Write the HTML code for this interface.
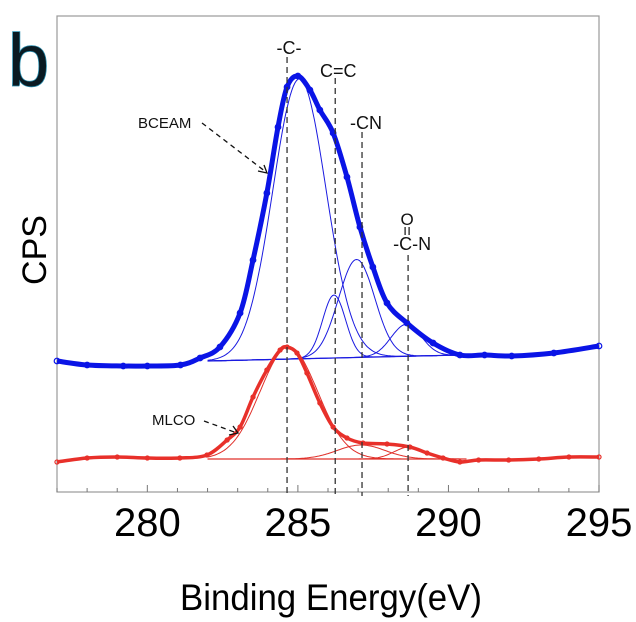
<!DOCTYPE html>
<html><head><meta charset="utf-8"><style>
html,body{margin:0;padding:0;background:#fff;}
svg{display:block;font-family:"Liberation Sans",Arial,sans-serif;}
</style></head><body>
<svg id="chart" width="636" height="622" viewBox="0 0 636 622" xmlns="http://www.w3.org/2000/svg">
<text x="8" y="86" font-size="74" fill="#0a1a22" style="paint-order:stroke" stroke="#2a8fb0" stroke-width="1.5">b</text>
<text transform="translate(46,250) rotate(-90)" text-anchor="middle" font-size="34" fill="#000">CPS</text>
<text x="180" y="610" font-size="37" textLength="302" lengthAdjust="spacingAndGlyphs" fill="#000">Binding Energy(eV)</text>
<g id="plot"></g>
</svg>
<script>
const xTicks=[280,285,290,295];
const blueE=[277.0,278.0,279.2,280.0,281.1,281.75,282.41,283.08,283.51,283.97,284.34,284.64,285.0,285.4,285.73,286.17,286.63,287.06,287.49,287.96,288.62,289.49,290.38,291.2,292.1,293.5,295.0];
const blueV=[131,127,126,126,127,134,145,179,232,299,365,405,416,402,382,359,315,265,225,189,169,149,137,137,136,139,146];
const redE=[277.0,278.0,279.0,280.0,281.08,281.98,282.65,283.08,283.51,283.97,284.41,284.64,284.97,285.30,285.73,286.17,286.63,287.16,287.96,288.72,289.29,289.82,290.38,291.0,292.0,293.0,294.0,295.0];
const redV=[30,34,35,34,34,37,52,65,95,122,142,145,139,119,89,65,54,49,48,45,39,34,30,32,32,33,35,35];
const blueCenters=[285.05,286.2,286.95,288.6];
const blueHeights=[280,63,98,32];
const blueWidths=[0.88,0.38,0.6,0.5];
const blueBg=[131,137];
const redCenters=[284.7,287.1,288.7];
const redHeights=[112,14,12];
const redWidths=[0.95,0.8,0.5];
const redBg=[33,33];
const refLines=[284.64,286.24,287.13,288.66];

const X0=57,X1=599,Y0=492,Y1=16;
const xMin=277,xMax=295,vMax=476;
const xs=e=>X0+(e-xMin)/(xMax-xMin)*(X1-X0);
const ys=v=>Y0-v/vMax*(Y0-Y1);
const NS="http://www.w3.org/2000/svg";
const g=document.getElementById('plot');
function mk(t,a,p){const el=document.createElementNS(NS,t);for(const k in a)el.setAttribute(k,a[k]);(p||g).appendChild(el);return el;}

const frame=mk('rect',{x:X0,y:Y1,width:X1-X0,height:Y0-Y1,fill:'none',stroke:'#999','stroke-width':1.2});


for(let e=xMin;e<=xMax;e++){
  const maj=xTicks.includes(e);
  const t=mk('line',{x1:xs(e),x2:xs(e),y1:Y0,y2:Y0-(maj?7:4),stroke:'#777','stroke-width':1});
  
  
}
xTicks.forEach(v=>{
  const t=mk('text',{x:xs(v),y:536,'text-anchor':'middle','font-size':40,fill:'#000'});
  t.textContent=v;
  
  
});

function smoothPath(E,V){
  const P=E.map((e,i)=>[xs(e),ys(V[i])]);
  let d='M'+P[0][0]+','+P[0][1];
  for(let i=0;i<P.length-1;i++){
    const p0=P[Math.max(0,i-1)],p1=P[i],p2=P[i+1],p3=P[Math.min(P.length-1,i+2)];
    const c1=[p1[0]+(p2[0]-p0[0])/6,p1[1]+(p2[1]-p0[1])/6];
    const c2=[p2[0]-(p3[0]-p1[0])/6,p2[1]-(p3[1]-p1[1])/6];
    d+=`C${c1[0]},${c1[1]} ${c2[0]},${c2[1]} ${p2[0]},${p2[1]}`;
  }
  return d;
}
function bgAt(bg,e,a,b){if(e<=a)return bg[0];if(e>=b)return bg[1];return bg[0]+(bg[1]-bg[0])*(e-a)/(b-a);}
function drawFits(C,H,W,bg,a,b,color,name){
  const bl=mk('line',{x1:xs(a),y1:ys(bg[0]),x2:xs(b),y2:ys(bg[1]),stroke:color,'stroke-width':1.2});
  
  
  C.forEach((c,i)=>{
    let d='';
    for(let e=a;e<=b+1e-9;e+=0.05){
      const v=bgAt(bg,e,a,b)+H[i]*Math.exp(-((e-c)**2)/(2*W[i]*W[i]));
      d+=(d?'L':'M')+xs(e).toFixed(1)+','+ys(v).toFixed(1);
    }
    const p=mk('path',{d,fill:'none',stroke:color,'stroke-width':1});
    
    
  });
}
function drawData(E,V,color,w,name){
  const p=mk('path',{d:smoothPath(E,V),fill:'none',stroke:color,'stroke-width':w,'stroke-linejoin':'round'});
  
  
  E.forEach((e,i)=>{
    const c=mk('circle',{cx:xs(e),cy:ys(V[i]),r:w/2+0.3,fill:'none',stroke:color,'stroke-width':1.2});
    
    
  });
}
drawFits(blueCenters,blueHeights,blueWidths,blueBg,282.0,290.4,'#1a1ae0','bceam');
drawFits(redCenters,redHeights,redWidths,redBg,282.0,290.6,'#e0302a','mlco');
drawData(blueE,blueV,'#0a14e6',5,'bceam');
drawData(redE,redV,'#e8302a',3.5,'mlco');

const tops=[57,78,132,255];
refLines.forEach((e,i)=>{
  const l=mk('line',{x1:xs(e),x2:xs(e),y1:tops[i],y2:496,stroke:'#333','stroke-width':1.3,'stroke-dasharray':'6,4'});
  
  
});
function label(txt,x,y,size,name,anchor){
  const t=mk('text',{x,y,'font-size':size,'text-anchor':anchor||'middle',fill:'#111'});
  t.textContent=txt;
  
  
  return t;
}
label('-C-',xs(refLines[0])+2,54,18,'label-c-c');
label('C=C',xs(refLines[1])+3,77,18,'label-c-double-c');
label('-CN',xs(refLines[2])+4,129,18,'label-cn');
label('O',xs(refLines[3])-1,225,17,'label-amide-o');
label('-C-N',xs(refLines[3])+4,250,18,'label-amide');
const dbl=mk('path',{d:`M${xs(refLines[3])-3},227V235M${xs(refLines[3])+1},227V235`,stroke:'#111','stroke-width':1.2,fill:'none'});


label('BCEAM',138,128,15,'bceam-label','start');
label('MLCO',152,425,15,'mlco-label','start');
const a1=mk('path',{d:'M202,123L266,172',stroke:'#111','stroke-width':1.3,'stroke-dasharray':'5,4',fill:'none'});


const h1=mk('path',{d:'M258,171L267,173L264,165',stroke:'#111','stroke-width':1.3,fill:'none'});


const a2=mk('path',{d:'M204,421L237,433',stroke:'#111','stroke-width':1.3,'stroke-dasharray':'5,4',fill:'none'});


const h2=mk('path',{d:'M229,435L238,433L233,426',stroke:'#111','stroke-width':1.3,fill:'none'});


</script>
</body></html>
